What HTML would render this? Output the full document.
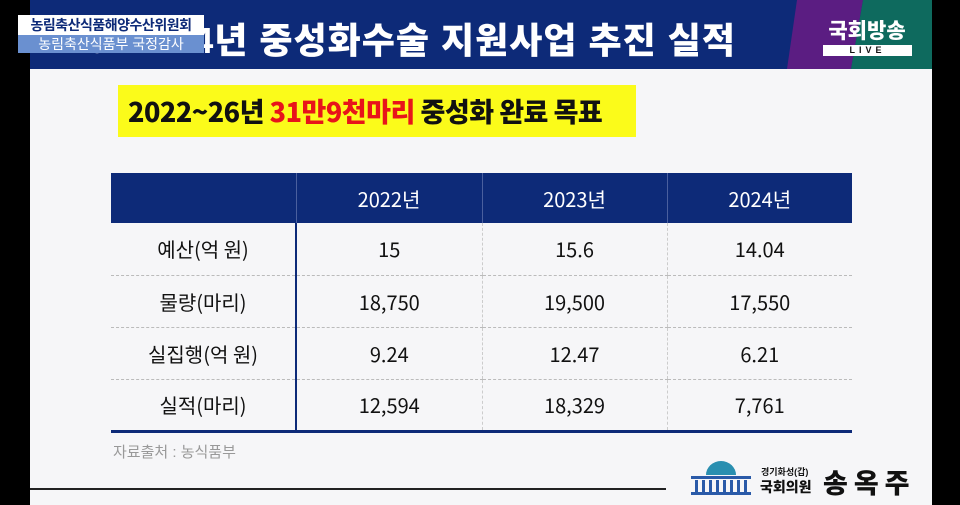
<!DOCTYPE html>
<html><head><meta charset="utf-8"><style>
*{margin:0;padding:0;box-sizing:border-box}
body{width:960px;height:505px;background:#000;position:relative;overflow:hidden;font-family:"Liberation Sans","Noto Sans CJK KR",sans-serif}
.abs{position:absolute}
.slide{left:30px;top:0;width:902px;height:505px;background:#f6f6f8}
.hdr{left:30px;top:0;width:902px;height:69px;background:#0d2a78;overflow:hidden}
.title{right:196px;top:12px;color:#fff;font-weight:900;font-size:36px;white-space:nowrap;letter-spacing:1px}
table{position:absolute;left:111px;top:173px;width:741px;border-collapse:collapse}
th{background:#0d2a78;color:#fff;font-weight:normal;font-size:20px;height:50px;border-left:1px solid #4a5f9e;font-family:"Noto Sans CJK KR",sans-serif}
td{height:52px;text-align:center;vertical-align:middle;font-size:20px;color:#111;border-bottom:1px dashed #bbb;border-left:1px dashed #ccc;font-family:"Noto Sans CJK KR",sans-serif}
td:first-child{border-left:none}
td:nth-child(2){border-left:2px solid #0d2a78}
tr:last-child td{border-bottom:3px solid #0d2a78}
</style></head><body>
<div class="abs slide"></div>
<div class="abs hdr">
 <div class="abs title">2022~24년 중성화수술 지원사업 추진 실적</div>
 <svg class="abs" style="left:0;top:0" width="902" height="69"><polygon points="767,0 833,0 821,69 757,69" fill="#5b1d82"/><polygon points="833,0 902,0 902,69 821,69" fill="#0e6a5e"/></svg>
 <div class="abs" style="left:790px;top:17px;color:#fff;font-size:21px;font-weight:900;width:94px;text-align:center;font-family:'Noto Sans CJK KR',sans-serif;line-height:26px">국회방송</div>
 <div class="abs" style="left:793px;top:45px;width:89px;height:11px;background:#fff;color:#111;font-size:9px;font-weight:bold;letter-spacing:4px;text-align:center;line-height:11px">LIVE</div>
</div>
<div class="abs" style="left:18px;top:15px;width:186px;height:20px;background:#fff;color:#0d2a78;font-size:14px;font-weight:bold;line-height:20px;text-align:center;letter-spacing:-0.5px">농림축산식품해양수산위원회</div>
<div class="abs" style="left:18px;top:35px;width:186px;height:18px;background:#6a90d0;color:#fff;font-size:14px;line-height:18px;text-align:center">농림축산식품부 국정감사</div>
<div class="abs" style="left:118px;top:85px;width:518px;height:52px;background:#fbfb1a;font-size:27px;font-weight:900;line-height:52px;padding-left:10px;white-space:nowrap;color:#111;letter-spacing:-0.5px;font-family:'Noto Sans CJK KR',sans-serif">2022~26년 <span style="color:#e8141a">31만9천마리</span> 중성화 완료 목표</div>
<table>
<tr><th style="width:185px;border-left:none"></th><th style="width:186px">2022년</th><th style="width:185px">2023년</th><th>2024년</th></tr>
<tr><td>예산(억 원)</td><td>15</td><td>15.6</td><td>14.04</td></tr>
<tr><td>물량(마리)</td><td>18,750</td><td>19,500</td><td>17,550</td></tr>
<tr><td>실집행(억 원)</td><td>9.24</td><td>12.47</td><td>6.21</td></tr>
<tr><td>실적(마리)</td><td>12,594</td><td>18,329</td><td>7,761</td></tr>
</table>
<div class="abs" style="left:113px;top:441px;color:#999;font-size:15px">자료출처 : 농식품부</div>
<div class="abs" style="left:30px;top:488px;width:636px;height:2px;background:#222"></div>
<svg class="abs" style="left:686px;top:460px" width="70" height="38"><path d="M20 15 A15 14 0 0 1 50 15 Z" fill="#2a8fb0"/><rect x="5" y="16" width="60" height="3" fill="#2a5aa8"/><g fill="#2a5aa8"><rect x="9" y="20" width="3" height="12"/><rect x="16" y="20" width="3" height="12"/><rect x="23" y="20" width="3" height="12"/><rect x="30" y="20" width="3" height="12"/><rect x="37" y="20" width="3" height="12"/><rect x="44" y="20" width="3" height="12"/><rect x="51" y="20" width="3" height="12"/><rect x="58" y="20" width="3" height="12"/></g><rect x="5" y="32" width="60" height="3" fill="#2a5aa8"/></svg>
<div class="abs" style="left:761px;top:465px;font-size:9px;font-weight:bold;color:#111">경기화성(갑)</div>
<div class="abs" style="left:760px;top:477px;font-size:14px;font-weight:900;color:#111">국회의원</div>
<div class="abs" style="left:823px;top:462px;font-size:27px;font-weight:900;color:#111;letter-spacing:6px">송옥주</div>
</body></html>
